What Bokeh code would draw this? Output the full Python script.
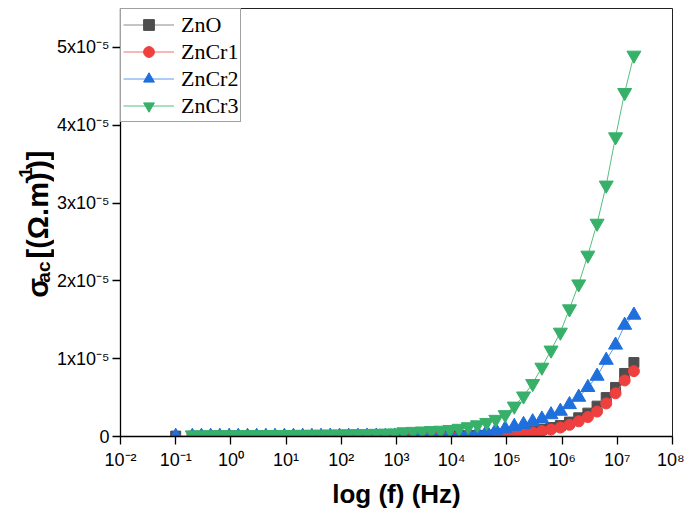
from math import pi
from bokeh.plotting import figure
from bokeh.layouts import row
from bokeh.models import FixedTicker, Range1d, Legend, LegendItem
from bokeh.core.properties import value
from bokeh.embed import file_html
from bokeh.resources import INLINE

# Frequencies (Hz)
freq = [0.2, 0.293, 0.43, 0.63, 0.93, 1.36,
        2.0, 2.93, 4.3, 6.3, 9.3, 13.6,
        20, 29.3, 43, 63, 93, 136,
        200, 293, 430, 630, 930, 1360,
        2000, 2930, 4300, 6300, 9300, 13600,
        2.0e4, 2.93e4, 4.3e4, 6.3e4, 9.3e4, 1.36e5,
        2.0e5, 2.93e5, 4.3e5, 6.3e5, 9.3e5, 1.36e6,
        2.0e6, 2.93e6, 4.3e6, 6.3e6, 9.3e6, 1.36e7,
        2.0e7]
freq_first = [0.1]

# sigma_ac in units of 1e-5 (Ohm.m)^-1
zno = [0.002, 0.002, 0.002, 0.002, 0.002, 0.002,
       0.002, 0.002, 0.002, 0.002, 0.002, 0.002,
       0.002, 0.002, 0.003, 0.003, 0.003, 0.003,
       0.003, 0.003, 0.004, 0.004, 0.004, 0.005,
       0.005, 0.006, 0.006, 0.007, 0.008, 0.009,
       0.010, 0.012, 0.015, 0.020, 0.028, 0.040,
       0.055, 0.070, 0.090, 0.115, 0.140, 0.185,
       0.240, 0.300, 0.390, 0.500, 0.630, 0.810,
       0.950]
zno_first = [0.005]

zncr1 = [0.001, 0.001, 0.001, 0.001, 0.001, 0.001,
         0.001, 0.001, 0.001, 0.001, 0.001, 0.001,
         0.001, 0.001, 0.002, 0.002, 0.002, 0.002,
         0.002, 0.002, 0.002, 0.003, 0.003, 0.003,
         0.003, 0.004, 0.004, 0.004, 0.005, 0.005,
         0.007, 0.009, 0.012, 0.016, 0.022, 0.030,
         0.040, 0.052, 0.070, 0.090, 0.115, 0.150,
         0.195, 0.250, 0.320, 0.425, 0.555, 0.720,
         0.840]

zncr2 = [0.003, 0.003, 0.003, 0.003, 0.003, 0.003,
         0.003, 0.003, 0.003, 0.003, 0.003, 0.003,
         0.003, 0.003, 0.003, 0.004, 0.004, 0.004,
         0.004, 0.005, 0.005, 0.005, 0.006, 0.006,
         0.008, 0.010, 0.012, 0.015, 0.020, 0.025,
         0.035, 0.045, 0.060, 0.080, 0.100, 0.130,
         0.155, 0.190, 0.225, 0.280, 0.325, 0.410,
         0.505, 0.630, 0.775, 0.980, 1.175, 1.430,
         1.560]
zncr2_first = [0.003]

zncr3 = [0.020, 0.020, 0.021, 0.021, 0.022, 0.022,
         0.023, 0.023, 0.024, 0.025, 0.025, 0.026,
         0.027, 0.028, 0.029, 0.030, 0.032, 0.034,
         0.036, 0.038, 0.040, 0.042, 0.045, 0.060,
         0.065, 0.070, 0.075, 0.080, 0.090, 0.105,
         0.125, 0.150, 0.180, 0.220, 0.280, 0.390,
         0.520, 0.680, 0.890, 1.110, 1.340, 1.640,
         1.960, 2.330, 2.740, 3.230, 3.850, 4.420,
         4.900]

x_ticks = [1e-2, 1e-1, 1e0, 1e1, 1e2, 1e3, 1e4, 1e5, 1e6, 1e7, 1e8]
x_tick_labels = ["10⁻²", "10⁻¹", "10⁰", "10¹", "10²", "10³", "10⁴",
                 "10⁵", "10⁶", "10⁷", "10⁸"]
y_ticks = [0, 1, 2, 3, 4, 5]
y_tick_labels = ["0", "1x10⁻⁵", "2x10⁻⁵", "3x10⁻⁵", "4x10⁻⁵", "5x10⁻⁵"]

# y-axis title pieces (main text, subscript, superscript)
ylab_main = ["σ", "[(Ω.m)", ")]"]
ylab_sub = ["ac"]
ylab_sup = ["-1"]

H = 512
LW = 54

p = figure(x_axis_type="log", x_range=Range1d(1e-2, 1e8), y_range=Range1d(0, 5.5),
           frame_width=552, frame_height=428,
           min_border_left=120 - LW, min_border_right=12, min_border_top=8,
           min_border_bottom=H - 8 - 428,
           output_backend="svg", toolbar_location=None)

p.xgrid.visible = False
p.ygrid.visible = False
p.outline_line_color = "#222222"
p.outline_line_width = 1
p.background_fill_color = "white"
p.border_fill_color = "white"

for ax in (p.xaxis[0], p.yaxis[0]):
    ax.axis_line_color = "black"
    ax.axis_line_width = 1.3
    ax.major_tick_line_color = "black"
    ax.major_tick_line_width = 1.3
    ax.major_tick_out = 8
    ax.major_tick_in = 0
    ax.minor_tick_line_color = None
    ax.major_label_text_font = "Liberation Sans"
    ax.major_label_text_font_size = "18px"
    ax.major_label_text_color = "black"

p.xaxis.ticker = FixedTicker(ticks=x_ticks)
p.xaxis.major_label_overrides = {t: l for t, l in zip(x_ticks, x_tick_labels)}
p.xaxis.major_label_standoff = 5
p.yaxis.ticker = FixedTicker(ticks=y_ticks)
p.yaxis.major_label_overrides = {t: l for t, l in zip(y_ticks, y_tick_labels)}
p.yaxis.major_label_standoff = 3

p.xaxis.axis_label = "log (f) (Hz)"
p.xaxis.axis_label_text_font = "Liberation Sans"
p.xaxis.axis_label_text_font_style = "bold"
p.xaxis.axis_label_text_font_size = "26px"
p.xaxis.axis_label_standoff = 6
p.xaxis.axis_label_text_color = "black"

series = [
    ("ZnO", freq_first + freq, zno_first + zno, "#8a8a8a", "#4d4d4d", "square", 10),
    ("ZnCr1", freq, zncr1, "#f07070", "#ef4040", "circle", 11),
    ("ZnCr2", freq_first + freq, zncr2_first + zncr2, "#5c9be8", "#1f6fdc", "triangle", 14),
    ("ZnCr3", freq, zncr3, "#55bf80", "#37b06a", "inverted_triangle", 14),
]

items = []
for name, xs, ys, lc, mc, marker, size in series:
    lr = p.line(xs, ys, line_color=lc, line_width=1)
    sr = p.scatter(xs, ys, marker=marker, size=size, fill_color=mc, line_color=mc)
    items.append(LegendItem(label=name, renderers=[lr, sr]))

legend = Legend(items=items, location="top_left")
legend.margin = 0
legend.padding = 2
legend.spacing = 0
legend.glyph_width = 51
legend.glyph_height = 27
legend.label_height = 27
legend.label_standoff = 7
legend.label_text_font = "Liberation Serif"
legend.label_text_font_size = "22px"
legend.label_text_color = "black"
legend.border_line_color = "#444444"
legend.border_line_width = 1
legend.background_fill_color = "white"
legend.background_fill_alpha = 1
p.add_layout(legend)

# side panel holding the rotated y-axis title (data units == pixels)
lab = figure(width=LW, height=H, x_range=Range1d(0, LW), y_range=Range1d(0, H),
             min_border=0, min_border_left=0, min_border_right=0,
             min_border_top=0, min_border_bottom=0,
             x_axis_location=None, y_axis_location=None,
             output_backend="svg", toolbar_location=None)
lab.outline_line_color = None
lab.xgrid.visible = False
lab.ygrid.visible = False
lab.background_fill_color = "white"
lab.border_fill_color = "white"

y0 = 166
bx = 37
w_sig, w_sub, w_sp, w_mid, w_sup = 18, 21, 8, 89, 17
main_y = [y0, y0 + w_sig + w_sub + w_sp, y0 + w_sig + w_sub + w_sp + w_mid + w_sup]
common = dict(angle=pi / 2, text_font=value("Liberation Sans"), text_font_style="bold",
              text_color="black", text_align="left", text_baseline="alphabetic")
lab.text(x=[bx] * 3, y=main_y, text=ylab_main, text_font_size="29px", **common)
lab.text(x=[bx + 6], y=[y0 + w_sig], text=ylab_sub, text_font_size="19px", **common)
lab.text(x=[bx - 12], y=[y0 + w_sig + w_sub + w_sp + w_mid], text=ylab_sup,
         text_font_size="19px", **common)

open("out.html", "w").write(file_html(row(lab, p), INLINE))
